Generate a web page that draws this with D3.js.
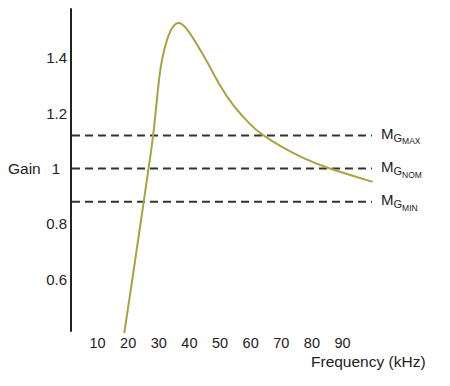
<!DOCTYPE html>
<html>
<head>
<meta charset="utf-8">
<script src="https://cdn.jsdelivr.net/npm/d3@7"></script>
<style>
  body { margin: 0; background: #fff; }
  text { font-family: "Liberation Sans", Arial, sans-serif; fill: #222; }
</style>
</head>
<body>
<script>
var width = 450,
    height = 386;

var freqs = [18.9, 21.2, 25.8, 28.0, 29.1, 30.1, 31.2, 32.9, 34.5, 36.7, 39.4, 42.1, 46.0, 50.3, 54.6, 60.1, 63.4, 71.0, 77.5, 84.0, 100.0];
var gains = [0.405, 0.572, 0.923, 1.085, 1.194, 1.314, 1.399, 1.471, 1.513, 1.535, 1.507, 1.459, 1.387, 1.295, 1.224, 1.158, 1.125, 1.073, 1.037, 1.006, 0.952];

var xTicks = [10, 20, 30, 40, 50, 60, 70, 80, 90];
var yTicks = [0.6, 0.8, 1, 1.2, 1.4];

var refValues = [1.12, 1.0, 0.88];
var refNames = ["MAX", "NOM", "MIN"];

var axisX = 71;

var x = d3.scaleLinear().domain([10, 90]).range([97, 342]);
var y = d3.scaleLinear().domain([0.6, 1.4]).range([279.2, 58]);

var svg = d3.select("body").append("svg")
    .attr("width", width)
    .attr("height", height);

// vertical axis line
svg.append("line")
    .attr("x1", axisX).attr("x2", axisX)
    .attr("y1", y(1.58)).attr("y2", y(0.41))
    .style("stroke", "#222")
    .style("stroke-width", 2);

var yAxis = svg.append("g")
    .attr("transform", "translate(" + axisX + ",0)")
    .call(d3.axisLeft(y).tickValues(yTicks).tickSize(0).tickPadding(4)
        .tickFormat(function (d) { return d === 1 ? "1" : d3.format(".1f")(d); }));
yAxis.select(".domain").remove();
yAxis.selectAll("text")
    .style("font-size", "15px")
    .style("fill", "#222")
    .attr("font-family", null)
    .attr("dx", function (d) { return d === 1 ? -7 : 0; });

var xAxis = svg.append("g")
    .attr("transform", "translate(0,335)")
    .call(d3.axisBottom(x).tickValues(xTicks).tickSize(0).tickPadding(3));
xAxis.select(".domain").remove();
xAxis.selectAll("text")
    .style("font-size", "14.5px")
    .style("fill", "#222")
    .attr("font-family", null);

svg.append("text")
    .attr("x", 8).attr("y", y(1.0) + 5)
    .style("font-size", "15.5px")
    .text("Gain");

svg.append("text")
    .attr("x", 311).attr("y", 367)
    .style("font-size", "15.5px")
    .text("Frequency (kHz)");

// reference lines
svg.selectAll(".ref")
    .data(refValues)
    .enter().append("line")
    .attr("class", "ref")
    .attr("x1", axisX + 1).attr("x2", 372)
    .attr("y1", function (d) { return y(d); })
    .attr("y2", function (d) { return y(d); })
    .style("stroke", "#333")
    .style("stroke-width", 2)
    .style("stroke-dasharray", "8,5");

var lbl = svg.selectAll(".reflabel")
    .data(refValues)
    .enter().append("text")
    .attr("class", "reflabel")
    .attr("x", 381)
    .attr("y", function (d) { return y(d) + 3.5; });
lbl.append("tspan").style("font-size", "15px").text("M");
lbl.append("tspan").style("font-size", "11px").attr("dy", 3).text("G");
lbl.append("tspan").style("font-size", "8.5px").attr("dy", 2.5)
    .text(function (d, i) { return refNames[i]; });

// gain curve
var pts = freqs.map(function (f, i) { return [f, gains[i]]; });
var line = d3.line()
    .x(function (d) { return x(d[0]); })
    .y(function (d) { return y(d[1]); })
    .curve(d3.curveBasis);

svg.append("path")
    .datum(pts)
    .attr("d", line)
    .style("fill", "none")
    .style("stroke", "#a9a33f")
    .style("stroke-width", 2);
</script>
</body>
</html>
